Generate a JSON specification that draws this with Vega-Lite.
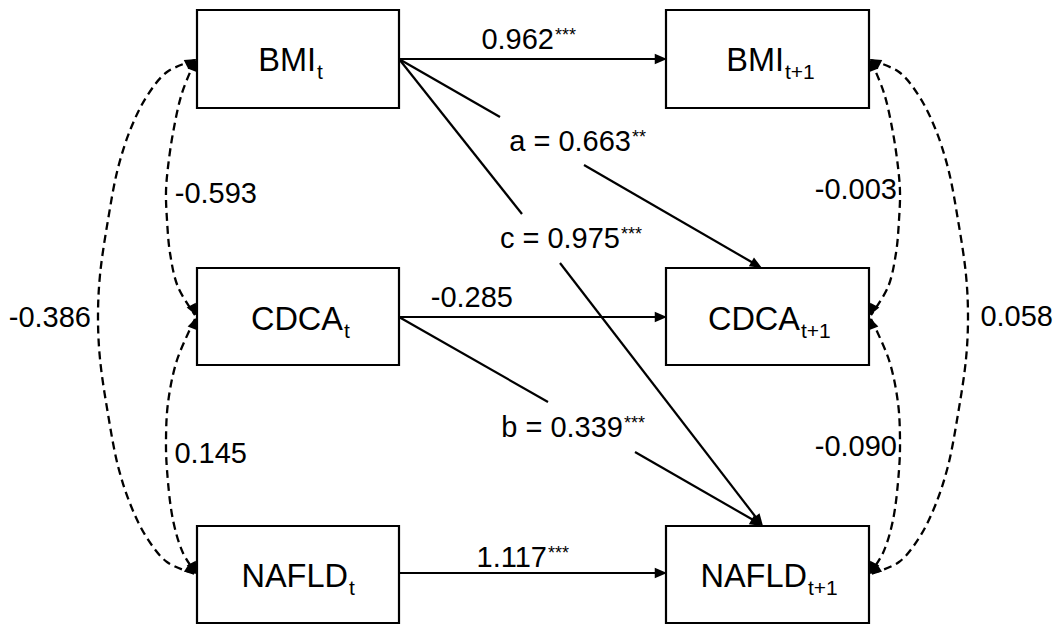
{
  "$schema": "https://vega.github.io/schema/vega-lite/v6.json",
  "width": 1060,
  "height": 625,
  "padding": 0,
  "autosize": "none",
  "background": "white",
  "config": {"view": {"stroke": null}},
  "datasets": {
    "boxes": [
      {"node": "BMI_t", "x1": 197, "x2": 399, "y1": 10, "y2": 108},
      {"node": "BMI_t+1", "x1": 666, "x2": 869, "y1": 10, "y2": 108},
      {"node": "CDCA_t", "x1": 197, "x2": 399, "y1": 268, "y2": 365},
      {"node": "CDCA_t+1", "x1": 666, "x2": 869, "y1": 268, "y2": 365},
      {"node": "NAFLD_t", "x1": 197, "x2": 399, "y1": 526, "y2": 623},
      {"node": "NAFLD_t+1", "x1": 666, "x2": 869, "y1": 526, "y2": 623}
    ],
    "paths": [
      {"path": "BMI stability", "x1": 399, "y1": 59, "x2": 658, "y2": 59},
      {"path": "CDCA stability", "x1": 399, "y1": 317, "x2": 658, "y2": 317},
      {"path": "NAFLD stability", "x1": 399, "y1": 573, "x2": 658, "y2": 573},
      {"path": "a", "x1": 399, "y1": 59, "x2": 500, "y2": 117},
      {"path": "a", "x1": 584, "y1": 165, "x2": 755, "y2": 264},
      {"path": "c", "x1": 399, "y1": 59, "x2": 522, "y2": 214},
      {"path": "c", "x1": 560, "y1": 263, "x2": 758, "y2": 520},
      {"path": "b", "x1": 399, "y1": 317, "x2": 548, "y2": 402},
      {"path": "b", "x1": 635, "y1": 452, "x2": 755, "y2": 521}
    ],
    "arcs": [
      {"arc": "L-outer", "i": 0, "x": 195, "y": 60},
      {"arc": "L-outer", "i": 1, "x": 167, "y": 72},
      {"arc": "L-outer", "i": 2, "x": 147, "y": 96},
      {"arc": "L-outer", "i": 3, "x": 131, "y": 128},
      {"arc": "L-outer", "i": 4, "x": 118, "y": 168},
      {"arc": "L-outer", "i": 5, "x": 108, "y": 220},
      {"arc": "L-outer", "i": 6, "x": 100, "y": 275},
      {"arc": "L-outer", "i": 7, "x": 98, "y": 317},
      {"arc": "L-outer", "i": 8, "x": 100, "y": 359},
      {"arc": "L-outer", "i": 9, "x": 108, "y": 414},
      {"arc": "L-outer", "i": 10, "x": 118, "y": 466},
      {"arc": "L-outer", "i": 11, "x": 131, "y": 506},
      {"arc": "L-outer", "i": 12, "x": 147, "y": 538},
      {"arc": "L-outer", "i": 13, "x": 167, "y": 562},
      {"arc": "L-outer", "i": 14, "x": 195, "y": 574},
      {"arc": "L-upper", "i": 0, "x": 195, "y": 61},
      {"arc": "L-upper", "i": 1, "x": 182, "y": 93},
      {"arc": "L-upper", "i": 2, "x": 173, "y": 133},
      {"arc": "L-upper", "i": 3, "x": 168, "y": 167},
      {"arc": "L-upper", "i": 4, "x": 166, "y": 192},
      {"arc": "L-upper", "i": 5, "x": 167, "y": 220},
      {"arc": "L-upper", "i": 6, "x": 170, "y": 253},
      {"arc": "L-upper", "i": 7, "x": 178, "y": 287},
      {"arc": "L-upper", "i": 8, "x": 195, "y": 315},
      {"arc": "L-lower", "i": 0, "x": 195, "y": 319},
      {"arc": "L-lower", "i": 1, "x": 177, "y": 360},
      {"arc": "L-lower", "i": 2, "x": 168, "y": 403},
      {"arc": "L-lower", "i": 3, "x": 166, "y": 440},
      {"arc": "L-lower", "i": 4, "x": 167, "y": 470},
      {"arc": "L-lower", "i": 5, "x": 173, "y": 520},
      {"arc": "L-lower", "i": 6, "x": 183, "y": 553},
      {"arc": "L-lower", "i": 7, "x": 195, "y": 572},
      {"arc": "R-outer", "i": 0, "x": 871, "y": 60},
      {"arc": "R-outer", "i": 1, "x": 899, "y": 72},
      {"arc": "R-outer", "i": 2, "x": 919, "y": 96},
      {"arc": "R-outer", "i": 3, "x": 935, "y": 128},
      {"arc": "R-outer", "i": 4, "x": 948, "y": 168},
      {"arc": "R-outer", "i": 5, "x": 958, "y": 220},
      {"arc": "R-outer", "i": 6, "x": 966, "y": 275},
      {"arc": "R-outer", "i": 7, "x": 968, "y": 317},
      {"arc": "R-outer", "i": 8, "x": 966, "y": 359},
      {"arc": "R-outer", "i": 9, "x": 958, "y": 414},
      {"arc": "R-outer", "i": 10, "x": 948, "y": 466},
      {"arc": "R-outer", "i": 11, "x": 935, "y": 506},
      {"arc": "R-outer", "i": 12, "x": 919, "y": 538},
      {"arc": "R-outer", "i": 13, "x": 899, "y": 562},
      {"arc": "R-outer", "i": 14, "x": 871, "y": 574},
      {"arc": "R-upper", "i": 0, "x": 871, "y": 61},
      {"arc": "R-upper", "i": 1, "x": 884, "y": 93},
      {"arc": "R-upper", "i": 2, "x": 893, "y": 133},
      {"arc": "R-upper", "i": 3, "x": 898, "y": 167},
      {"arc": "R-upper", "i": 4, "x": 900, "y": 192},
      {"arc": "R-upper", "i": 5, "x": 899, "y": 220},
      {"arc": "R-upper", "i": 6, "x": 896, "y": 253},
      {"arc": "R-upper", "i": 7, "x": 888, "y": 287},
      {"arc": "R-upper", "i": 8, "x": 871, "y": 315},
      {"arc": "R-lower", "i": 0, "x": 871, "y": 319},
      {"arc": "R-lower", "i": 1, "x": 889, "y": 360},
      {"arc": "R-lower", "i": 2, "x": 898, "y": 403},
      {"arc": "R-lower", "i": 3, "x": 900, "y": 440},
      {"arc": "R-lower", "i": 4, "x": 899, "y": 470},
      {"arc": "R-lower", "i": 5, "x": 893, "y": 520},
      {"arc": "R-lower", "i": 6, "x": 883, "y": 553},
      {"arc": "R-lower", "i": 7, "x": 871, "y": 572}
    ],
    "heads": [
      {"to": "BMI_t+1", "x": 667, "y": 59, "angle": 0},
      {"to": "CDCA_t+1", "x": 667, "y": 317, "angle": 0},
      {"to": "NAFLD_t+1", "x": 667, "y": 573, "angle": 0},
      {"to": "CDCA_t+1 (a)", "x": 762, "y": 268, "angle": 30},
      {"to": "NAFLD_t+1 (c)", "x": 763, "y": 526, "angle": 52},
      {"to": "NAFLD_t+1 (b)", "x": 762, "y": 526, "angle": 30},
      {"to": "BMI_t outer", "x": 197, "y": 59, "angle": -27},
      {"to": "BMI_t inner", "x": 197, "y": 59, "angle": -68},
      {"to": "CDCA_t upper", "x": 197, "y": 316, "angle": 62},
      {"to": "CDCA_t lower", "x": 197, "y": 317, "angle": -68},
      {"to": "NAFLD_t inner", "x": 197, "y": 574, "angle": 62},
      {"to": "NAFLD_t outer", "x": 197, "y": 574, "angle": 33},
      {"to": "BMI_t+1 outer", "x": 869, "y": 59, "angle": -153},
      {"to": "BMI_t+1 inner", "x": 869, "y": 59, "angle": -112},
      {"to": "CDCA_t+1 upper", "x": 869, "y": 316, "angle": 118},
      {"to": "CDCA_t+1 lower", "x": 869, "y": 317, "angle": -112},
      {"to": "NAFLD_t+1 inner", "x": 869, "y": 574, "angle": 118},
      {"to": "NAFLD_t+1 outer", "x": 869, "y": 574, "angle": 147}
    ],
    "nodeLabels": [
      {"name": "BMI", "sub": "t", "x": 316, "y": 71},
      {"name": "BMI", "sub": "t+1", "x": 784, "y": 71},
      {"name": "CDCA", "sub": "t", "x": 343, "y": 330},
      {"name": "CDCA", "sub": "t+1", "x": 800, "y": 330},
      {"name": "NAFLD", "sub": "t", "x": 348, "y": 587},
      {"name": "NAFLD", "sub": "t+1", "x": 807, "y": 587}
    ],
    "edgeLabels": [
      {"label": "0.962", "stars": "***", "x": 554, "y": 49},
      {"label": "-0.285", "stars": "", "x": 513, "y": 307},
      {"label": "1.117", "stars": "***", "x": 547, "y": 567},
      {"label": "a = 0.663", "stars": "**", "x": 631, "y": 151},
      {"label": "c = 0.975", "stars": "***", "x": 620, "y": 248},
      {"label": "b = 0.339", "stars": "***", "x": 623, "y": 437},
      {"label": "-0.593", "stars": "", "x": 257, "y": 203},
      {"label": "0.145", "stars": "", "x": 247, "y": 463},
      {"label": "-0.386", "stars": "", "x": 91, "y": 327},
      {"label": "-0.003", "stars": "", "x": 897, "y": 199},
      {"label": "-0.090", "stars": "", "x": 897, "y": 456},
      {"label": "0.058", "stars": "", "x": 1053, "y": 326}
    ]
  },
  "layer": [
    {
      "data": {"name": "boxes"},
      "mark": {"type": "rect", "fill": "white", "stroke": "black", "strokeWidth": 2.2},
      "encoding": {
        "x": {"field": "x1", "type": "quantitative", "scale": {"domain": [0, 1060], "nice": false, "zero": false}, "axis": null},
        "x2": {"field": "x2"},
        "y": {"field": "y1", "type": "quantitative", "scale": {"domain": [0, 625], "nice": false, "zero": false, "reverse": true}, "axis": null},
        "y2": {"field": "y2"}
      }
    },
    {
      "data": {"name": "paths"},
      "mark": {"type": "rule", "color": "black", "strokeWidth": 2.2},
      "encoding": {
        "x": {"field": "x1", "type": "quantitative", "scale": {"domain": [0, 1060], "nice": false, "zero": false}, "axis": null},
        "x2": {"field": "x2"},
        "y": {"field": "y1", "type": "quantitative", "scale": {"domain": [0, 625], "nice": false, "zero": false, "reverse": true}, "axis": null},
        "y2": {"field": "y2"}
      }
    },
    {
      "data": {"name": "arcs"},
      "mark": {"type": "line", "color": "black", "strokeWidth": 2.3, "strokeDash": [8, 5], "interpolate": "catmull-rom"},
      "encoding": {
        "x": {"field": "x", "type": "quantitative", "scale": {"domain": [0, 1060], "nice": false, "zero": false}, "axis": null},
        "y": {"field": "y", "type": "quantitative", "scale": {"domain": [0, 625], "nice": false, "zero": false, "reverse": true}, "axis": null},
        "detail": {"field": "arc", "type": "nominal"},
        "order": {"field": "i", "type": "quantitative"}
      }
    },
    {
      "data": {"name": "heads"},
      "mark": {"type": "point", "filled": true, "color": "black", "opacity": 1, "strokeWidth": 0, "size": 600, "shape": "M0,0L-1,-0.42L-1,0.42Z"},
      "encoding": {
        "x": {"field": "x", "type": "quantitative", "scale": {"domain": [0, 1060], "nice": false, "zero": false}, "axis": null},
        "y": {"field": "y", "type": "quantitative", "scale": {"domain": [0, 625], "nice": false, "zero": false, "reverse": true}, "axis": null},
        "angle": {"field": "angle", "type": "quantitative", "scale": null}
      }
    },
    {
      "data": {"name": "nodeLabels"},
      "mark": {"type": "text", "align": "right", "baseline": "alphabetic", "font": "Liberation Sans", "fontSize": 32.5, "color": "black"},
      "encoding": {
        "x": {"field": "x", "type": "quantitative", "scale": {"domain": [0, 1060], "nice": false, "zero": false}, "axis": null},
        "y": {"field": "y", "type": "quantitative", "scale": {"domain": [0, 625], "nice": false, "zero": false, "reverse": true}, "axis": null},
        "text": {"field": "name"}
      }
    },
    {
      "data": {"name": "nodeLabels"},
      "mark": {"type": "text", "align": "left", "baseline": "alphabetic", "font": "Liberation Sans", "fontSize": 21, "dx": 1, "dy": 8, "color": "black"},
      "encoding": {
        "x": {"field": "x", "type": "quantitative", "scale": {"domain": [0, 1060], "nice": false, "zero": false}, "axis": null},
        "y": {"field": "y", "type": "quantitative", "scale": {"domain": [0, 625], "nice": false, "zero": false, "reverse": true}, "axis": null},
        "text": {"field": "sub"}
      }
    },
    {
      "data": {"name": "edgeLabels"},
      "mark": {"type": "text", "align": "right", "baseline": "alphabetic", "font": "Liberation Sans", "fontSize": 29, "color": "black"},
      "encoding": {
        "x": {"field": "x", "type": "quantitative", "scale": {"domain": [0, 1060], "nice": false, "zero": false}, "axis": null},
        "y": {"field": "y", "type": "quantitative", "scale": {"domain": [0, 625], "nice": false, "zero": false, "reverse": true}, "axis": null},
        "text": {"field": "label"}
      }
    },
    {
      "data": {"name": "edgeLabels"},
      "mark": {"type": "text", "align": "left", "baseline": "alphabetic", "font": "Liberation Sans", "fontSize": 18, "dx": 1, "dy": -8, "color": "black"},
      "encoding": {
        "x": {"field": "x", "type": "quantitative", "scale": {"domain": [0, 1060], "nice": false, "zero": false}, "axis": null},
        "y": {"field": "y", "type": "quantitative", "scale": {"domain": [0, 625], "nice": false, "zero": false, "reverse": true}, "axis": null},
        "text": {"field": "stars"}
      }
    }
  ]
}
